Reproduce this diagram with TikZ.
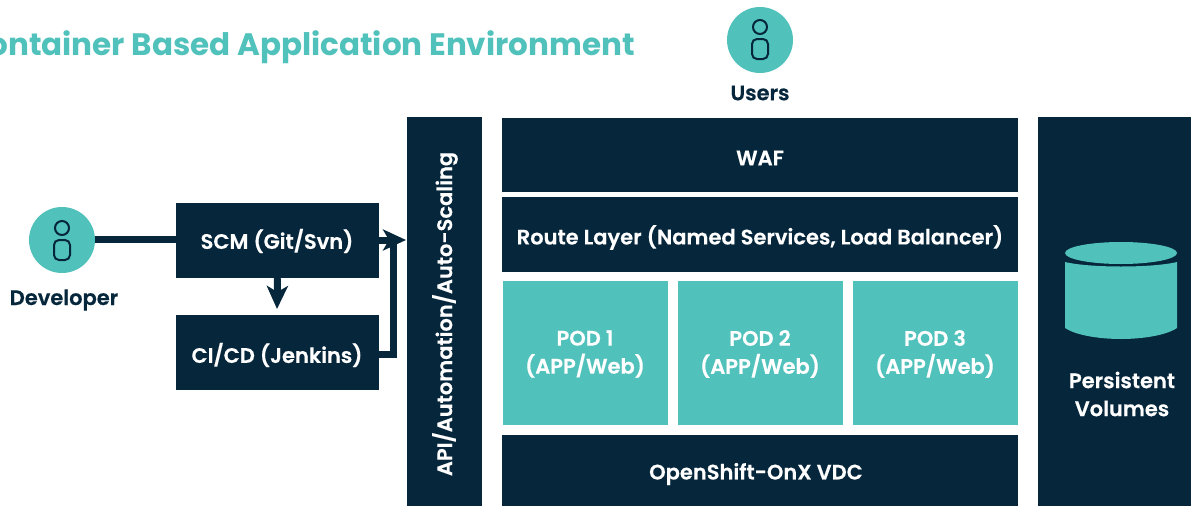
\documentclass[tikz,border=0pt]{standalone}
\usepackage{fontspec}
\setmainfont{Poppins SemiBold}[RawFeature={embolden=0.4}]
\newfontfamily\titlefont{Poppins}[BoldFont=Poppins Bold]
\usetikzlibrary{arrows.meta}
\definecolor{navy}{HTML}{05263B}
\definecolor{teal}{HTML}{50C1BB}
\tikzset{
  panel/.style={fill=navy,inner sep=0pt},
  podbox/.style={fill=teal,inner sep=0pt},
  boxtext/.style={text=white,inner sep=0pt,align=center,font=\fontsize{21}{28}\selectfont},
  avatar/.style={circle,fill=teal,minimum size=66pt,inner sep=0pt},
  caption/.style={text=navy,inner sep=0pt,font=\fontsize{21}{24}\selectfont},
  link/.style={draw=navy,line width=7pt},
  iconline/.style={draw=navy,line width=2pt},
  tip/.style={-{Stealth[length=23pt,width=21pt,inset=6pt]}},
}
\begin{document}
\begin{tikzpicture}[x=1pt,y=-1pt]
\useasboundingbox (0,0) rectangle (1191,506);
\clip (0,0) rectangle (1191,506);
\node[anchor=base east,text=teal,inner sep=0pt,font=\fontsize{31}{36}\selectfont\titlefont\bfseries] (title) at (635,55) {Container Based Application Environment};
% users
\node[avatar] (users) at (760,40) {};
\node[iconline,circle,minimum size=14pt,inner sep=0pt] (usershead) at (760,27) {};
\node[iconline,rounded corners=5pt,minimum width=16pt,minimum height=20pt,inner sep=0pt] (usersbody) at (760,49) {};
\node[caption] (userslabel) at (760,93) {Users};
% developer
\node[avatar] (dev) at (62,240) {};
\node[iconline,circle,minimum size=14pt,inner sep=0pt] (devhead) at (62,228) {};
\node[iconline,rounded corners=5pt,minimum width=16pt,minimum height=20pt,inner sep=0pt] (devbody) at (62,250) {};
\node[caption] (devlabel) at (64,300) {Developer};
% left boxes
\node[panel,minimum width=203pt,minimum height=75pt] (scm) at (277.5,240.5) {};
\node[boxtext] (scmlabel) at (277,241) {SCM (Git/Svn)};
\node[panel,minimum width=203pt,minimum height=75pt] (cicd) at (277.5,352.5) {};
\node[boxtext] (cicdlabel) at (277,355) {CI/CD (Jenkins)};
% api bar
\node[panel,minimum width=75pt,minimum height=389pt] (api) at (444.5,311.5) {};
\node[boxtext,rotate=90] (apilabel) at (445,314) {API/Automation/Auto-Scaling};
% centre stack
\node[panel,minimum width=516pt,minimum height=74pt] (waf) at (760,155) {};
\node[boxtext] (waflabel) at (760,158) {WAF};
\node[panel,minimum width=516pt,minimum height=75pt] (route) at (760,234.5) {};
\node[boxtext] (routelabel) at (760,237.5) {Route Layer (Named Services, Load Balancer)};
\node[podbox,minimum width=165pt,minimum height=144pt] (pod1) at (585.5,353) {};
\node[boxtext] (pod1label) at (585,354) {POD 1\\(APP/Web)};
\node[podbox,minimum width=165pt,minimum height=144pt] (pod2) at (760.5,353) {};
\node[boxtext] (pod2label) at (760,354) {POD 2\\(APP/Web)};
\node[podbox,minimum width=165pt,minimum height=144pt] (pod3) at (935.5,353) {};
\node[boxtext] (pod3label) at (935,354) {POD 3\\(APP/Web)};
\node[panel,minimum width=516pt,minimum height=71pt] (vdc) at (760,470.5) {};
\node[boxtext] (vdclabel) at (756,474) {OpenShift-OnX VDC};
% persistent
\node[panel,minimum width=153pt,minimum height=389pt] (pv) at (1114.5,311.5) {};
\node[boxtext] (pvlabel) at (1122,394) {Persistent\\Volumes};
\fill[teal] (1065,262) .. controls (1090,268) and (1152,268) .. (1177,262) -- (1177,328) .. controls (1165,336) and (1140,339) .. (1121,339) .. controls (1102,339) and (1077,336) .. (1065,328) -- cycle;
\fill[teal] (1121,253) ellipse [x radius=56,y radius=11];
% connectors
\coordinate (apiin) at (406,240);
\coordinate (bend) at (393,354);
\draw[link] (dev.east |- 0,239) -- (scm.west |- 0,239);
\draw[link,tip] (scm.east |- 0,240) -- (apiin);
\draw[link,tip] (scm.south) -- (277,309);
\draw[link,line join=miter] (cicd.east |- bend) -- (bend) -- (393,243);
\end{tikzpicture}
\end{document}
